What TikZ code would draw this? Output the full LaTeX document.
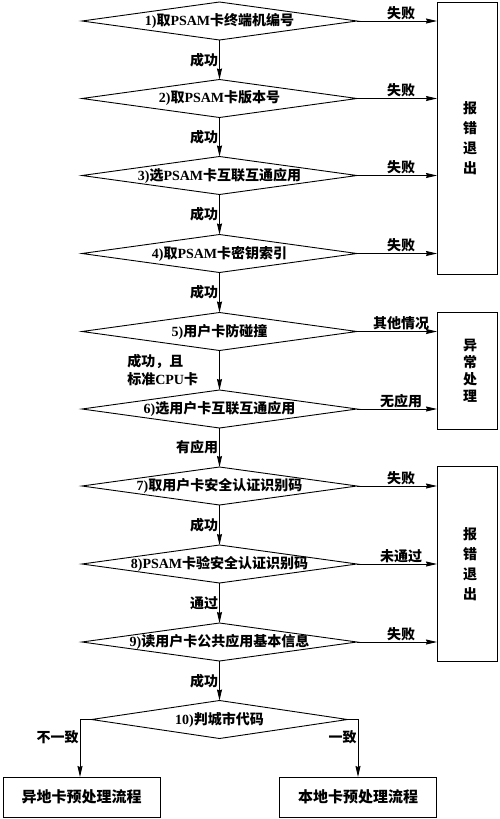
\documentclass[tikz,border=0pt]{standalone}
\usepackage{fontspec}
\setmainfont{Noto Sans CJK SC}
\newfontfamily\lat{Liberation Serif}
\usetikzlibrary{shapes.geometric,arrows.meta}
\newcommand\dtx[1]{\makebox[0pt]{#1}}
\begin{document}
\begin{tikzpicture}[x=1pt,y=-1pt,
  every node/.style={font=\bfseries\fontsize{14}{16}\selectfont},
  dec/.style={draw, diamond, inner sep=0pt, outer sep=0pt, minimum width=275pt, minimum height=38pt, line width=0.9pt},
  sidebox/.style={draw, rectangle, minimum width=60pt, inner sep=0pt, outer sep=0pt, line width=0.9pt, align=center},
  endbox/.style={draw, rectangle, minimum width=157pt, minimum height=40pt, inner sep=0pt, outer sep=0pt, line width=0.9pt, font=\bfseries\fontsize{15}{17}\selectfont},
  lab/.style={inner sep=1pt},
  arr/.style={-{Stealth[length=11pt,width=5pt,inset=1pt]}, line width=0.9pt},
  ln/.style={line width=0.9pt}]
\useasboundingbox (0,0) rectangle (500,819);
\fill[white] (0,0) rectangle (500,819);

% decisions
\node[dec] (d1) at (219.5,21) {\dtx{{\lat 1)}取{\lat PSAM}卡终端机编号}};
\node[dec] (d2) at (219.5,98.5) {\dtx{{\lat 2)}取{\lat PSAM}卡版本号}};
\node[dec] (d3) at (219.5,175.5) {\dtx{{\lat 3)}选{\lat PSAM}卡互联互通应用}};
\node[dec] (d4) at (219.5,253.5) {\dtx{{\lat 4)}取{\lat PSAM}卡密钥索引}};
\node[dec] (d5) at (219.5,331.5) {\dtx{{\lat 5)}用户卡防碰撞}};
\node[dec] (d6) at (219.5,409) {\dtx{{\lat 6)}选用户卡互联互通应用}};
\node[dec] (d7) at (219.5,486) {\dtx{{\lat 7)}取用户卡安全认证识别码}};
\node[dec] (d8) at (219.5,564) {\dtx{{\lat 8)}{\lat PSAM}卡验安全认证识别码}};
\node[dec] (d9) at (219.5,642) {\dtx{{\lat 9)}读用户卡公共应用基本信息}};
\node[dec, minimum width=256pt] (d10) at (219.5,719.5) {\dtx{{\lat 10)}判城市代码}};

% side boxes
\node[sidebox, minimum height=272pt, font=\bfseries\fontsize{14}{20}\selectfont] (e1) at (467,138) {\hspace*{6pt}报\\\hspace*{6pt}错\\\hspace*{6pt}退\\\hspace*{6pt}出};
\node[sidebox, minimum height=117pt, font=\bfseries\fontsize{14}{17}\selectfont] (ab) at (467,370.5) {\hspace*{6pt}异\\\hspace*{6pt}常\\\hspace*{6pt}处\\\hspace*{6pt}理};
\node[sidebox, minimum height=195pt, font=\bfseries\fontsize{14}{20}\selectfont] (e2) at (467,564) {\hspace*{6pt}报\\\hspace*{6pt}错\\\hspace*{6pt}退\\\hspace*{6pt}出};

% end boxes
\node[endbox] (bl) at (81.5,797) {异地卡预处理流程};
\node[endbox] (br) at (358,797) {本地卡预处理流程};

% vertical flow
\draw[arr] (d1.south) -- node[lab, anchor=east] {成功} (d2.north);
\draw[arr] (d2.south) -- node[lab, anchor=east] {成功} (d3.north);
\draw[arr] (d3.south) -- node[lab, anchor=east] {成功} (d4.north);
\draw[arr] (d4.south) -- node[lab, anchor=east] {成功} (d5.north);
\draw[arr] (d5.south) -- node[lab, anchor=east, align=left, xshift=-20pt, font=\bfseries\fontsize{14}{18}\selectfont] {成功，且\\标准{\lat CPU}卡} (d6.north);
\draw[arr] (d6.south) -- node[lab, anchor=east] {有应用} (d7.north);
\draw[arr] (d7.south) -- node[lab, anchor=east] {成功} (d8.north);
\draw[arr] (d8.south) -- node[lab, anchor=east] {通过} (d9.north);
\draw[arr] (d9.south) -- node[lab, anchor=east] {成功} (d10.north);

% right branches
\draw[arr] (d1.east) -- node[lab, anchor=south, pos=0.55] {失败} (d1.east -| e1.west);
\draw[arr] (d2.east) -- node[lab, anchor=south, pos=0.55] {失败} (d2.east -| e1.west);
\draw[arr] (d3.east) -- node[lab, anchor=south, pos=0.55] {失败} (d3.east -| e1.west);
\draw[arr] (d4.east) -- node[lab, anchor=south, pos=0.55] {失败} (d4.east -| e1.west);
\draw[arr] (d5.east) -- node[lab, anchor=south, pos=0.55] {其他情况} (d5.east -| ab.west);
\draw[arr] (d6.east) -- node[lab, anchor=south, pos=0.55] {无应用} (d6.east -| ab.west);
\draw[arr] (d7.east) -- node[lab, anchor=south, pos=0.55] {失败} (d7.east -| e2.west);
\draw[arr] (d8.east) -- node[lab, anchor=south, pos=0.55] {未通过} (d8.east -| e2.west);
\draw[arr] (d9.east) -- node[lab, anchor=south, pos=0.55] {失败} (d9.east -| e2.west);

% final branches
\coordinate (cl) at (80,719.5);
\coordinate (cr) at (358,719.5);
\draw[arr] (d10.west) -- (cl) -- node[lab, anchor=east, pos=0.3] {不一致} (cl |- bl.north);
\draw[arr] (d10.east) -- (cr) -- node[lab, anchor=east, pos=0.3] {一致} (br.north);
\end{tikzpicture}
\end{document}
